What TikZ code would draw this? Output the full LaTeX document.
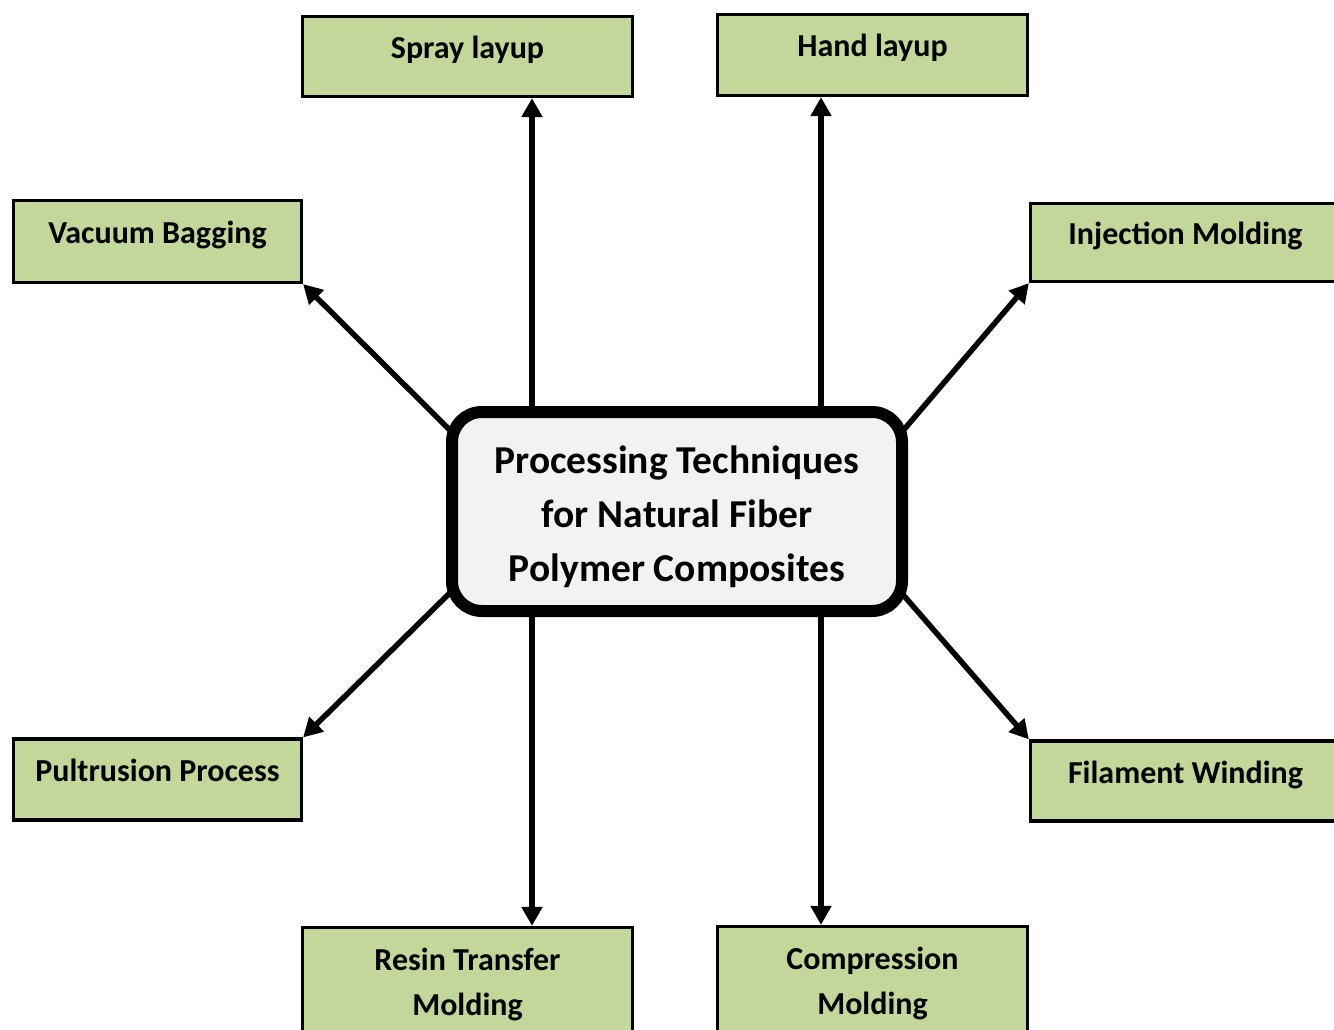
\documentclass[tikz,border=0pt]{standalone}
\usepackage{fontspec}
\setmainfont{Carlito}
\usetikzlibrary{arrows.meta,backgrounds}
\definecolor{boxgreen}{HTML}{C4D79B}
\definecolor{hubgray}{HTML}{F2F2F2}
\begin{document}
\begin{tikzpicture}[x=1pt,y=-1pt,
  method/.style={draw=black, line width=3.2pt, fill=boxgreen, inner sep=0pt,
    font=\fontsize{32}{45}\selectfont\bfseries, align=center},
  oneline/.style={text height=13pt, text depth=9pt},
  hub/.style={draw=black, line width=12pt, fill=hubgray, rounded corners=30pt,
    minimum width=450pt, minimum height=199pt, inner sep=0pt,
    font=\fontsize{39.5}{54}\selectfont\bfseries, align=center,
    text height=140pt, text depth=0pt},
  link/.style={line width=5.5pt, -{Triangle[length=19pt,width=20pt]}}]
\useasboundingbox (0,0) rectangle (1334,1030);

% central topic
\node[hub] (hub) at (677,511.5) {Processing Techniques\\for Natural Fiber\\Polymer Composites};

% processing methods
\node[method, oneline, minimum width=330pt, minimum height=80pt] (spray) at (467.5,56.5) {Spray layup};
\node[method, oneline, minimum width=310pt, minimum height=81pt] (hand) at (872.5,55) {Hand layup};
\node[method, oneline, minimum width=288pt, minimum height=82pt] (vacuum) at (157.5,241.5) {Vacuum Bagging};
\node[method, oneline, minimum width=310pt, minimum height=78pt] (inject) at (1185.5,242.5) {Injection Molding};
\node[method, oneline, minimum width=288pt, minimum height=81pt] (pultr) at (157.5,779.5) {Pultrusion Process};
\node[method, oneline, minimum width=310pt, minimum height=80pt] (filament) at (1185.5,781) {Filament Winding};
\node[method, minimum width=330pt, minimum height=114pt] (resin) at (467.5,984.5) {Resin Transfer\\Molding};
\node[method, minimum width=310pt, minimum height=114pt] (compress) at (872.5,983.5) {Compression\\Molding};

% columns of the vertical connectors
\coordinate (colL) at (532,0);
\coordinate (colR) at (821,0);
% start points of the diagonal connectors, hidden under the central box
\coordinate (sUL) at (470,450);
\coordinate (sUR) at (890,446);
\coordinate (sLL) at (465,578);
\coordinate (sLR) at (892,582);

\begin{scope}[on background layer]
  \draw[link] (colL |- hub.north) -- (colL |- spray.south);
  \draw[link] (colR |- hub.north) -- (colR |- hand.south);
  \draw[link] (colL |- hub.south) -- (colL |- resin.north);
  \draw[link] (colR |- hub.south) -- (colR |- compress.north);
  \draw[link] (sUL) -- (vacuum.south east);
  \draw[link] (sUR) -- (inject.south west);
  \draw[link] (sLL) -- (pultr.north east);
  \draw[link] (sLR) -- (filament.north west);
\end{scope}
\end{tikzpicture}
\end{document}
